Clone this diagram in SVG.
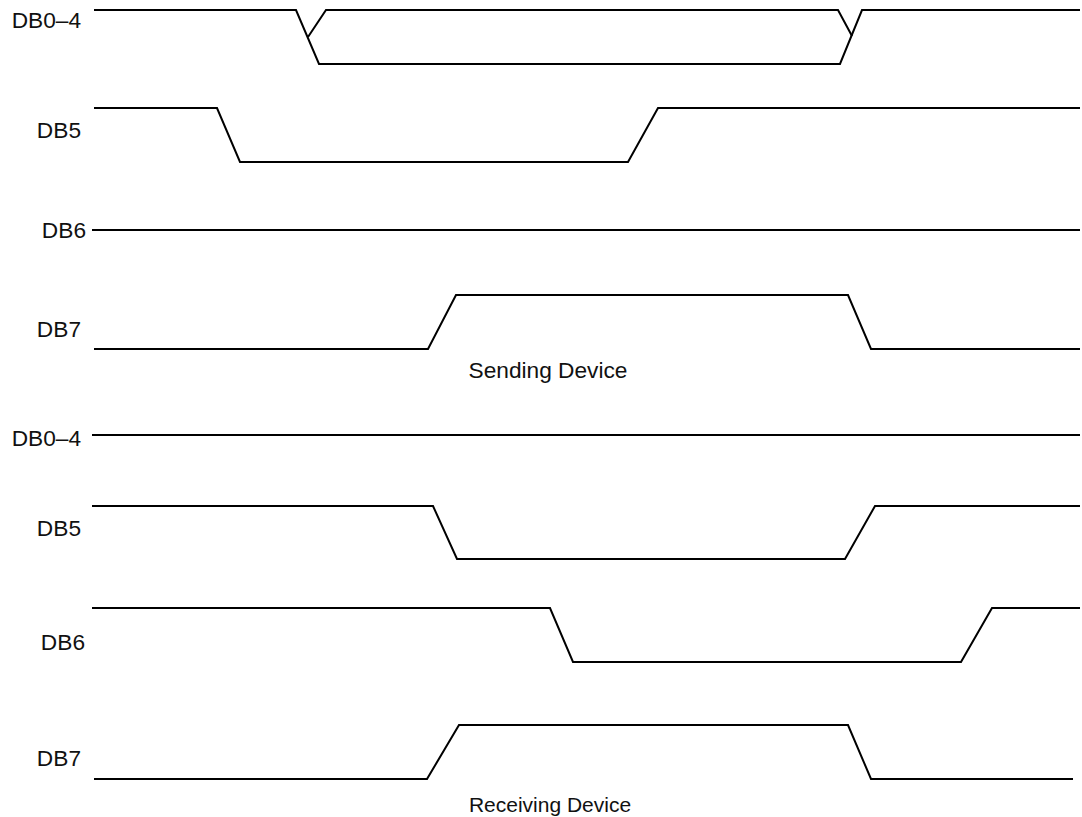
<svg xmlns="http://www.w3.org/2000/svg" width="1082" height="817" viewBox="0 0 1082 817">
<style>
.w{fill:none;stroke:#000;stroke-width:2;stroke-linejoin:miter}
.l{font-family:"Liberation Sans",Arial,sans-serif;font-size:22.7px;fill:#111;text-anchor:end}
.c{font-family:"Liberation Sans",Arial,sans-serif;font-size:22.7px;fill:#111;text-anchor:middle}
</style>
<rect width="1082" height="817" fill="#fff"/>
<g id="sending">
<g id="s-db04"><text class="l" x="81" y="28">DB0–4</text>
<path class="w" d="M94,10 H296 L319,64 H840 L862,10 H1080"/>
<path class="w" d="M308,37 L326,10 H838 L852,36"/></g>
<g id="s-db5"><text class="l" x="81" y="138">DB5</text>
<path class="w" d="M94,108 H217 L240,162 H628 L658,108 H1080"/></g>
<g id="s-db6"><text class="l" x="86" y="238">DB6</text>
<path class="w" d="M92,230 H1080"/></g>
<g id="s-db7"><text class="l" x="81" y="337">DB7</text>
<path class="w" d="M94,349 H428 L456,295 H848 L871,349 H1080"/></g>
<text id="s-title" class="c" x="548" y="378">Sending Device</text>
</g>
<g id="receiving">
<g id="r-db04"><text class="l" x="81" y="446">DB0–4</text>
<path class="w" d="M92,435 H1080"/></g>
<g id="r-db5"><text class="l" x="81" y="536">DB5</text>
<path class="w" d="M92,506 H433 L457,559 H845 L875,506 H1080"/></g>
<g id="r-db6"><text class="l" x="85" y="650">DB6</text>
<path class="w" d="M92,608 H550 L573,662 H961 L992,608 H1080"/></g>
<g id="r-db7"><text class="l" x="81" y="766">DB7</text>
<path class="w" d="M94,779 H427 L459,725 H848 L871,779 H1073"/></g>
<text id="r-title" class="c" x="550" y="812" style="font-size:21px">Receiving Device</text>
</g>
</svg>
